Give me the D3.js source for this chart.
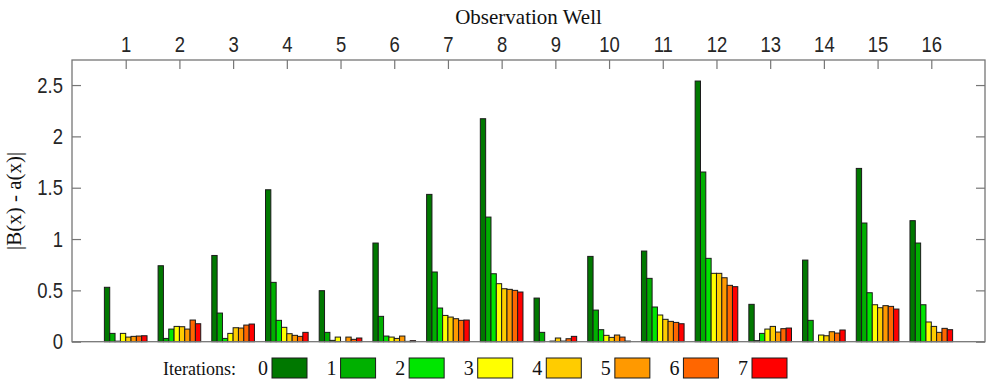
<!DOCTYPE html>
<html>
<head>
<meta charset="utf-8">
<script src="https://cdn.jsdelivr.net/npm/d3@7"></script>
<style>
  html, body { margin: 0; padding: 0; background: #fff; }
  svg { display: block; }
</style>
</head>
<body>
<svg id="chart" width="986" height="381"></svg>
<script>
// Observation wells along the top axis
const wells = ["1","2","3","4","5","6","7","8","9","10","11","12","13","14","15","16"];
// Iteration numbers shown in the legend
const iterations = [0, 1, 2, 3, 4, 5, 6, 7];
const iterationColors = ["#007800", "#00b000", "#00e600", "#ffff00", "#ffcc00", "#ff9900", "#ff6600", "#ff0000"];
// |B(x) - a(x)| per well, one array per iteration
const iter0 = [0.53, 0.74, 0.84, 1.48, 0.497, 0.961, 1.435, 2.172, 0.425, 0.831, 0.883, 2.539, 0.364, 0.795, 1.688, 1.179];
const iter1 = [0.081, 0.032, 0.279, 0.578, 0.091, 0.247, 0.679, 1.214, 0.091, 0.308, 0.617, 1.653, 0.01, 0.208, 1.156, 0.961];
const iter2 = [0.005, 0.123, 0.032, 0.208, 0.013, 0.055, 0.328, 0.662, 0.0, 0.117, 0.338, 0.812, 0.081, 0.0, 0.477, 0.36];
const iter3 = [0.081, 0.149, 0.081, 0.14, 0.045, 0.045, 0.256, 0.565, 0.006, 0.062, 0.26, 0.666, 0.123, 0.065, 0.36, 0.192];
const iter4 = [0.045, 0.146, 0.136, 0.078, 0.0, 0.032, 0.24, 0.516, 0.036, 0.042, 0.218, 0.666, 0.149, 0.058, 0.331, 0.149];
const iter5 = [0.052, 0.123, 0.133, 0.062, 0.045, 0.055, 0.224, 0.51, 0.006, 0.065, 0.198, 0.623, 0.094, 0.097, 0.351, 0.091];
const iter6 = [0.055, 0.211, 0.162, 0.052, 0.023, 0.003, 0.208, 0.5, 0.029, 0.045, 0.188, 0.549, 0.127, 0.084, 0.344, 0.13];
const iter7 = [0.058, 0.175, 0.172, 0.091, 0.036, 0.01, 0.211, 0.484, 0.052, 0.006, 0.175, 0.536, 0.133, 0.114, 0.318, 0.117];
const yTicks = [0, 0.5, 1, 1.5, 2, 2.5];

const series = [iter0, iter1, iter2, iter3, iter4, iter5, iter6, iter7];

const svg = d3.select("#chart");
const box = { left: 72, right: 985, top: 60, bottom: 341.7 };

const x = d3.scaleLinear().domain([0, wells.length + 1]).range([box.left, box.right]);
const step = x(1) - x(0);
const inner = d3.scaleBand().domain(iterations).range([-step * 0.397, step * 0.397]).padding(0);
const y = d3.scaleLinear().domain([0, 2.744]).range([box.bottom, box.top]);
const color = d3.scaleOrdinal().domain(iterations).range(iterationColors);

const serif = "'Liberation Serif', 'Times New Roman', serif";
const sans = "'Liberation Sans', Arial, sans-serif";
const axisColor = "#767676";
const textColor = "#262626";
const squeeze = 0.84; // horizontal condensing of tick labels

// Bars: one group per well, one bar per iteration
const rows = [];
wells.forEach((w, i) => {
  iterations.forEach((it, k) => {
    rows.push({ well: i + 1, iter: it, value: series[k][i] });
  });
});

svg.append("g")
  .selectAll("rect")
  .data(rows)
  .join("rect")
  .attr("x", d => x(d.well) + inner(d.iter))
  .attr("width", inner.bandwidth())
  .attr("y", d => y(d.value))
  .attr("height", d => y(0) - y(d.value))
  .attr("fill", d => color(d.iter))
  .attr("stroke", "#1a1a1a")
  .attr("stroke-width", 1);

// Frame
svg.append("rect")
  .attr("x", box.left).attr("y", box.top)
  .attr("width", box.right - box.left).attr("height", box.bottom - box.top)
  .attr("fill", "none").attr("stroke", axisColor).attr("stroke-width", 1.3);

// Top axis with well numbers
const topAxis = d3.axisTop(x)
  .tickValues(wells.map((w, i) => i + 1))
  .tickFormat((d, i) => wells[i])
  .tickSizeInner(-9).tickSizeOuter(0).tickPadding(8);
const gTop = svg.append("g").attr("transform", `translate(0,${box.top})`).call(topAxis);
gTop.select(".domain").remove();
gTop.selectAll("line").attr("stroke", axisColor).attr("stroke-width", 1.2);
gTop.selectAll("text")
  .attr("font-family", sans).attr("font-size", 22).attr("fill", textColor)
  .attr("transform", `scale(${squeeze},1)`);

// Left axis
const leftAxis = d3.axisLeft(y).tickValues(yTicks).tickFormat(d3.format("~g"))
  .tickSizeInner(-9).tickSizeOuter(0).tickPadding(9);
const gLeft = svg.append("g").attr("transform", `translate(${box.left},0)`).call(leftAxis);
gLeft.select(".domain").remove();
gLeft.selectAll("line").attr("stroke", axisColor).attr("stroke-width", 1.2);
gLeft.selectAll("text")
  .attr("font-family", sans).attr("font-size", 22).attr("fill", textColor)
  .attr("x", -9 / squeeze)
  .attr("transform", `scale(${squeeze},1)`);

// Right axis (ticks only)
const rightAxis = d3.axisRight(y).tickValues(yTicks).tickFormat("")
  .tickSizeInner(-9).tickSizeOuter(0);
const gRight = svg.append("g").attr("transform", `translate(${box.right},0)`).call(rightAxis);
gRight.select(".domain").remove();
gRight.selectAll("line").attr("stroke", axisColor).attr("stroke-width", 1.2);

// Titles
svg.append("text")
  .attr("x", (box.left + box.right) / 2).attr("y", 24)
  .attr("text-anchor", "middle")
  .attr("font-family", serif).attr("font-size", 21).attr("fill", "#111")
  .text("Observation Well");

svg.append("text")
  .attr("transform", `translate(21,${(box.top + box.bottom) / 2}) rotate(-90)`)
  .attr("text-anchor", "middle")
  .attr("font-family", serif).attr("font-size", 21).attr("fill", "#111")
  .text("|B(x) - a(x)|");

// Legend
const legend = svg.append("g");
legend.append("text")
  .attr("x", 163).attr("y", 375)
  .attr("font-family", serif).attr("font-size", 18).attr("fill", "#111")
  .text("Iterations:");

const legendX = d3.scaleLinear().domain([0, 7]).range([272, 752]);
const items = legend.selectAll("g.item").data(iterations).join("g").attr("class", "item")
  .attr("transform", d => `translate(${legendX(d)},358)`);
items.append("rect")
  .attr("width", 35).attr("height", 20)
  .attr("fill", d => color(d))
  .attr("stroke", "#1a1a1a").attr("stroke-width", 1);
items.append("text")
  .attr("x", -4).attr("y", 17)
  .attr("text-anchor", "end")
  .attr("font-family", serif).attr("font-size", 20).attr("fill", "#111")
  .text(d => d);
</script>
</body>
</html>
